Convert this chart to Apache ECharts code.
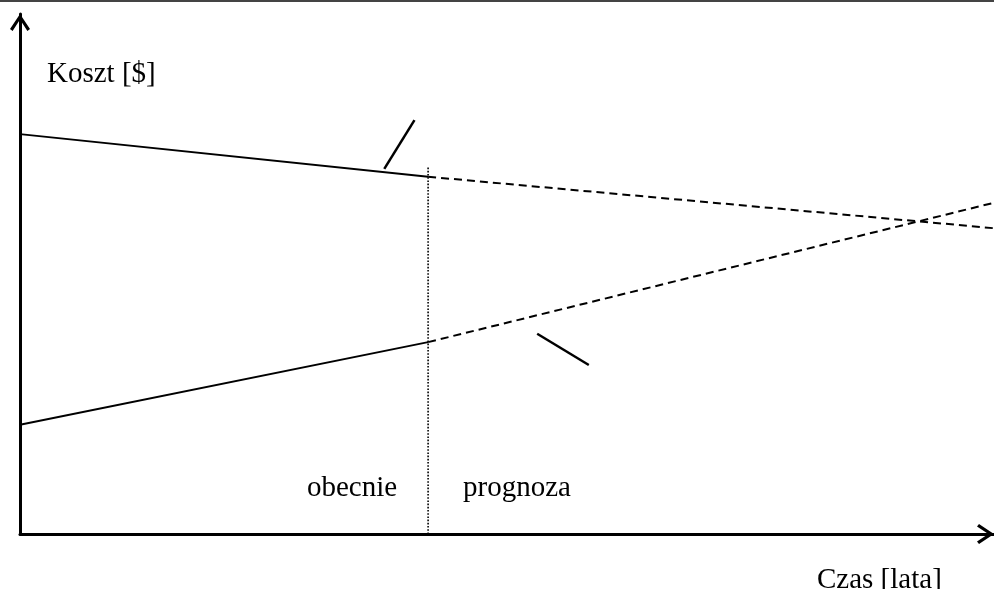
<!DOCTYPE html>
<html><head><meta charset="utf-8">
<script src="https://cdn.jsdelivr.net/npm/echarts@6/dist/echarts.min.js"></script>
<style>html,body{margin:0;padding:0;background:#fff}#c{width:994px;height:589px}</style>
</head><body><div id="c"></div>
<script>
// Data (x: time 0..100, y: cost 0..100)
const nowX = 41.9;
const upperActual = [[0, 76.9], [nowX, 68.7]];
const upperForecast = [[nowX, 68.7], [100, 58.8]];
const lowerActual = [[0, 21.0], [nowX, 36.9]];
const lowerForecast = [[nowX, 36.9], [100, 63.7]];
const nowLine = [[nowX, 0], [nowX, 70.6]];
const leaderUpper = [[37.4, 70.2], [40.5, 79.6]];
const leaderLower = [[53.1, 38.5], [58.4, 32.5]];
const labels = { y: 'Koszt [$]', x: 'Czas [lata]', now: 'obecnie', forecast: 'prognoza' };

const font = '29px "Liberation Serif", "Times New Roman", serif';
const arrowPath = 'path://M0,15 L10,0 L20,15 L17.4,17 L10,5.6 L2.6,17 Z';
const axisCommon = {
  type: 'value', min: 0, max: 100,
  axisLabel: { show: false }, axisTick: { show: false }, splitLine: { show: false },
  axisLine: { show: true, onZero: false, symbol: ['none', arrowPath], symbolSize: [20, 17], symbolOffset: [0, -8.5],
    lineStyle: { color: '#000', width: 3 } }
};
function line(data, type, width) {
  return { type: 'line', data, symbol: 'none', silent: true, animation: false,
    lineStyle: { color: '#000', width: width || 2, type: type || 'solid', cap: 'butt' } };
}
const chart = echarts.init(document.getElementById('c'), null, { renderer: 'canvas' });
chart.setOption({
  animation: false,
  grid: { left: 20, right: 0, top: 14, bottom: 55 },
  xAxis: Object.assign({}, axisCommon),
  yAxis: Object.assign({}, axisCommon),
  series: [
    line(upperActual),
    line(upperForecast, [8, 5]),
    line(lowerActual),
    line(lowerForecast, [8, 5]),
    line(nowLine, [1.6, 1.6], 1.6),
    line(leaderUpper, 'solid', 2.5),
    line(leaderLower, 'solid', 2.5)
  ],
  graphic: [
    { type: 'rect', shape: { x: 0, y: 0, width: 994, height: 2 }, style: { fill: '#444' } },
    { type: 'text', style: { text: labels.y, x: 47, y: 74, font, fill: '#000', verticalAlign: 'middle' } },
    { type: 'text', style: { text: labels.now, x: 307, y: 488, font, fill: '#000', verticalAlign: 'middle' } },
    { type: 'text', style: { text: labels.forecast, x: 463, y: 488, font, fill: '#000', verticalAlign: 'middle' } },
    { type: 'text', style: { text: labels.x, x: 817, y: 580, font, fill: '#000', verticalAlign: 'middle' } }
  ]
});
</script></body></html>
